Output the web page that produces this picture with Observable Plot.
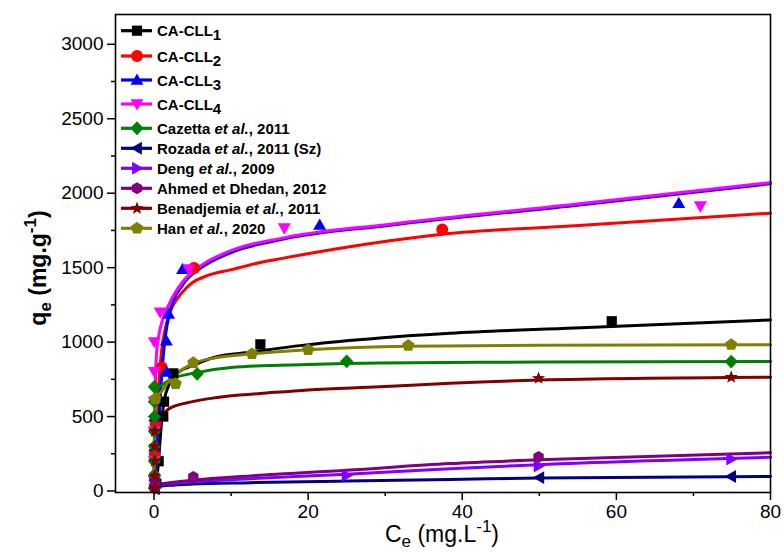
<!DOCTYPE html>
<html>
<head>
<meta charset="utf-8">
<script src="https://cdn.jsdelivr.net/npm/d3@7"></script>
<script src="https://cdn.jsdelivr.net/npm/@observablehq/plot@0.6"></script>
<style>
  html, body { margin: 0; padding: 0; background: white; }
  #chart { width: 784px; height: 553px; }
</style>
</head>
<body>
<div id="chart"></div>
<script>
// ---------- data ----------
const seriesNames = ["CA-CLL1", "CA-CLL2", "CA-CLL3", "CA-CLL4", "Cazetta et al., 2011", "Rozada et al., 2011 (Sz)", "Deng et al., 2009", "Ahmed et Dhedan, 2012", "Benadjemia et al., 2011", "Han et al., 2020"];
const seriesColors = ["#000000", "#ff0000", "#0000ff", "#ff00ff", "#008000", "#000080", "#8000ff", "#800080", "#800000", "#808000"];
const seriesSymbols = ["square", "circle", "triangleUp", "triangleDown", "diamond", "triangleLeft", "triangleRight", "hexagon", "star", "pentagon"];

// experimental points [Ce, qe]
const ptsCLL1 = [[0.3, 50], [0.6, 200], [1.2, 500], [1.3, 600], [2.5, 790], [13.8, 985], [59.4, 1140]];
const ptsCLL2 = [[0.05, 100], [0.1, 250], [0.2, 450], [1.0, 830], [5.2, 1497], [37.4, 1756]];
const ptsCLL3 = [[0.1, 100], [0.1, 300], [0.1, 500], [1.6, 800], [1.6, 1010], [1.9, 1190], [3.7, 1490], [21.5, 1787], [68.1, 1933]];
const ptsCLL4 = [[0.02, 200], [0.02, 400], [0.02, 600], [0.05, 800], [0.05, 1000], [0.8, 1200], [4.5, 1490], [16.9, 1765], [70.9, 1913]];
const ptsCazetta = [[0.05, 20], [0.05, 100], [0.05, 200], [0.05, 300], [0.05, 400], [0.05, 500], [0.05, 600], [0.05, 700], [5.6, 787], [25, 871], [74.9, 869]];
const ptsRozada = [[0.1, 15], [0.1, 40], [50, 90], [74.9, 98]];
const ptsDeng = [[0.1, 30], [0.1, 60], [25, 105], [49.9, 168], [74.9, 215]];
const ptsAhmed = [[0.1, 20], [0.1, 60], [5.1, 94], [49.9, 228]];
const ptsBenadjemia = [[0.1, 20], [0.1, 100], [0.1, 200], [0.1, 300], [0.1, 400], [49.9, 757], [74.9, 764]];
const ptsHan = [[0.17, 619], [2.8, 720], [5.1, 861], [12.7, 921], [20, 948], [33, 977], [74.9, 983]];

// fitted curves [Ce, qe]
const fitCLL1 = [[0, 0], [0.5, 150], [0.8, 350], [1, 480], [1.3, 600], [2, 720], [3, 790], [5, 842], [8, 900], [12.5, 932], [20, 983], [29.3, 1028], [38.4, 1060], [54.6, 1095], [80, 1149]];
const fitCLL2 = [[0, 0], [0.3, 300], [0.6, 700], [1, 950], [1.5, 1100], [2, 1190], [3.6, 1330], [5, 1400], [6.9, 1446], [9.9, 1485], [13.8, 1535], [16.8, 1564], [30.6, 1680], [37.4, 1725], [54.6, 1781], [80, 1866]];
const fitCLL3 = [[0, 0], [0.3, 150], [0.6, 450], [1, 780], [1.5, 1050], [2, 1190], [3.8, 1390], [6, 1495], [9.9, 1600], [16.8, 1692], [30.6, 1785], [54.6, 1918], [80, 2064]];
const fitCLL4 = [[0, 0], [0.1, 500], [0.3, 900], [0.6, 1040], [1, 1130], [2, 1260], [3.8, 1410], [6, 1510], [9.9, 1613], [16.8, 1700], [30.6, 1792], [54.6, 1926], [80, 2071]];
const fitCazetta = [[0, 0], [0.05, 400], [0.15, 650], [0.5, 690], [1, 710], [2, 745], [5, 790], [10, 830], [20, 850], [29.3, 860], [50, 866], [80, 870]];
const fitRozada = [[0, 0], [0.1, 20], [0.5, 30], [2, 38], [5, 47], [12.5, 56], [25, 67], [38.4, 78], [50, 87], [80, 98]];
const fitDeng = [[0, 0], [0.1, 25], [0.5, 38], [2, 49], [5, 62], [12.5, 83], [25, 112], [38.4, 150], [50, 177], [80, 226]];
const fitAhmed = [[0, 0], [0.1, 30], [0.5, 45], [2, 55], [5, 72], [12.5, 101], [25, 139], [38.4, 184], [50, 210], [80, 257]];
const fitBenadjemia = [[0, 0], [0.05, 250], [0.15, 440], [0.4, 480], [1, 510], [2, 555], [5, 600], [10, 640], [13.8, 655], [20, 679], [29.3, 700], [38.4, 724], [50, 745], [80, 764]];
const fitHan = [[0, 0], [0.05, 350], [0.15, 600], [0.5, 640], [1, 670], [2, 742], [3, 790], [5, 855], [8, 895], [12.7, 921], [20, 948], [33, 972], [50, 979], [80, 982]];

const allPts = [ptsCLL1, ptsCLL2, ptsCLL3, ptsCLL4, ptsCazetta, ptsRozada, ptsDeng, ptsAhmed, ptsBenadjemia, ptsHan];
const allFits = [fitCLL1, fitCLL2, fitCLL3, fitCLL4, fitCazetta, fitRozada, fitDeng, fitAhmed, fitBenadjemia, fitHan];

const xMajorTicks = [0, 20, 40, 60, 80];
const xMinorTicks = [10, 30, 50, 70];
const yMajorTicks = [0, 500, 1000, 1500, 2000, 2500, 3000];
const yMinorTicks = [250, 750, 1250, 1750, 2250, 2750];

// ---------- symbols ----------
function poly(ctx, pts) {
  ctx.moveTo(pts[0][0], pts[0][1]);
  for (let i = 1; i < pts.length; i++) ctx.lineTo(pts[i][0], pts[i][1]);
  ctx.closePath();
}
function regular(n, R, rot) {
  const p = [];
  for (let k = 0; k < n; k++) {
    const a = rot + k * 2 * Math.PI / n;
    p.push([R * Math.cos(a), R * Math.sin(a)]);
  }
  return p;
}
const rad = s => Math.sqrt(s / Math.PI);
const SYMBOLS = {
  square: {draw(ctx, s) { const h = rad(s) * 0.85; poly(ctx, [[-h, -h], [h, -h], [h, h], [-h, h]]); }},
  circle: {draw(ctx, s) { const r = rad(s); ctx.moveTo(r, 0); ctx.arc(0, 0, r, 0, 2 * Math.PI); }},
  triangleUp: {draw(ctx, s) { const r = rad(s) * 1.08; poly(ctx, [[0, -r], [r, r * 0.75], [-r, r * 0.75]]); }},
  triangleDown: {draw(ctx, s) { const r = rad(s) * 1.08; poly(ctx, [[0, r], [r, -r * 0.75], [-r, -r * 0.75]]); }},
  triangleLeft: {draw(ctx, s) { const r = rad(s) * 1.08; poly(ctx, [[-r, 0], [r * 0.75, -r], [r * 0.75, r]]); }},
  triangleRight: {draw(ctx, s) { const r = rad(s) * 1.08; poly(ctx, [[r, 0], [-r * 0.75, -r], [-r * 0.75, r]]); }},
  diamond: {draw(ctx, s) { const r = rad(s) * 1.1; poly(ctx, [[0, -r * 1.05], [r, 0], [0, r * 1.05], [-r, 0]]); }},
  hexagon: {draw(ctx, s) { poly(ctx, regular(6, rad(s), -Math.PI / 2)); }},
  pentagon: {draw(ctx, s) { poly(ctx, regular(5, rad(s) * 1.08, -Math.PI / 2)); }},
  star: {draw(ctx, s) {
    const R = rad(s) * 1.15, r = R * 0.42, p = [];
    for (let k = 0; k < 10; k++) {
      const a = -Math.PI / 2 + k * Math.PI / 5, rr = k % 2 ? r : R;
      p.push([rr * Math.cos(a), rr * Math.sin(a)]);
    }
    poly(ctx, p);
  }}
};

// ---------- marks ----------
const seriesMarks = [];
allFits.forEach((fit, i) => {
  seriesMarks.push(Plot.line(fit, {x: d => d[0], y: d => d[1], stroke: seriesColors[i], strokeWidth: 3, curve: "monotone-x"}));
});
allPts.forEach((pts, i) => {
  seriesMarks.push(Plot.dot(pts, {x: d => d[0], y: d => d[1], r: 6, symbol: SYMBOLS[seriesSymbols[i]], fill: seriesColors[i], stroke: "none"}));
});

const intFmt = d3.format("d");
const chart = Plot.plot({
  width: 784,
  height: 553,
  marginLeft: 115,
  marginRight: 14,
  marginTop: 14,
  marginBottom: 61,
  x: {domain: [-5, 80]},
  y: {domain: [-10, 3200]},
  style: {fontFamily: "'Liberation Sans', Arial, sans-serif", fontSize: "19px", color: "black", background: "white", overflow: "visible"},
  marks: [
    ...seriesMarks,
    Plot.axisX({ticks: xMajorTicks, tickSize: 8, tickPadding: 4, tickFormat: intFmt, label: null, strokeWidth: 1.5}),
    Plot.axisX({ticks: xMinorTicks, tickSize: 4, tickFormat: () => "", label: null, strokeWidth: 1.5}),
    Plot.axisY({ticks: yMajorTicks, tickSize: 8, tickPadding: 4, tickFormat: intFmt, label: null, strokeWidth: 1.5}),
    Plot.axisY({ticks: yMinorTicks, tickSize: 4, tickFormat: () => "", label: null, strokeWidth: 1.5}),
    Plot.frame({stroke: "black", strokeWidth: 1.6})
  ]
});
document.getElementById("chart").appendChild(chart);

// ---------- axis titles & legend ----------
const svg = d3.select(chart);
const ff = "'Liberation Sans', Arial, sans-serif";

const xt = svg.append("text").attr("x", 442).attr("y", 542).attr("text-anchor", "middle")
  .attr("font-family", ff).attr("font-size", 23).attr("fill", "black");
xt.append("tspan").text("C");
xt.append("tspan").attr("font-size", 17).attr("dy", 5).text("e");
xt.append("tspan").attr("dy", -5).text(" (mg.L");
xt.append("tspan").attr("font-size", 17).attr("dy", -10).text("-1");
xt.append("tspan").attr("dy", 10).text(")");

const yt = svg.append("text").attr("transform", "translate(46,268) rotate(-90)").attr("text-anchor", "middle")
  .attr("font-family", ff).attr("font-size", 23).attr("font-weight", "bold").attr("fill", "black");
yt.append("tspan").text("q");
yt.append("tspan").attr("font-size", 17).attr("dy", 5).text("e");
yt.append("tspan").attr("dy", -5).text(" (mg.g");
yt.append("tspan").attr("font-size", 17).attr("dy", -10).text("-1");
yt.append("tspan").attr("dy", 10).text(")");

const legendY = [30.7, 56, 80, 104, 128.3, 148.3, 168.3, 188.3, 208.3, 228.3];
const legendParts = [
  [["CA-CLL", ""], ["1", "sub"]],
  [["CA-CLL", ""], ["2", "sub"]],
  [["CA-CLL", ""], ["3", "sub"]],
  [["CA-CLL", ""], ["4", "sub"]],
  [["Cazetta ", ""], ["et al.", "it"], [", 2011", ""]],
  [["Rozada ", ""], ["et al.", "it"], [", 2011 (Sz)", ""]],
  [["Deng ", ""], ["et al.", "it"], [", 2009", ""]],
  [["Ahmed et Dhedan, 2012", ""]],
  [["Benadjemia ", ""], ["et al.", "it"], [", 2011", ""]],
  [["Han ", ""], ["et al.", "it"], [", 2020", ""]]
];
const lg = svg.append("g").attr("text-anchor", "start");
seriesNames.forEach((name, i) => {
  const y = legendY[i];
  lg.append("line").attr("x1", 121).attr("x2", 152).attr("y1", y).attr("y2", y)
    .attr("stroke", seriesColors[i]).attr("stroke-width", 3.2);
  lg.append("path").attr("transform", `translate(137,${y})`)
    .attr("d", d3.symbol(SYMBOLS[seriesSymbols[i]], 6 * 6 * Math.PI)())
    .attr("fill", seriesColors[i]);
  const t = lg.append("text").attr("x", 157).attr("y", y + 5.5).attr("text-anchor", "start").attr("font-family", ff)
    .attr("font-size", 15).attr("font-weight", "bold").attr("fill", "black");
  t.append("title").text(name);
  legendParts[i].forEach(([s, kind]) => {
    const sp = t.append("tspan").text(s);
    if (kind === "sub") sp.attr("dy", 4);
    if (kind === "it") sp.attr("font-style", "italic");
  });
});
</script>
</body>
</html>
